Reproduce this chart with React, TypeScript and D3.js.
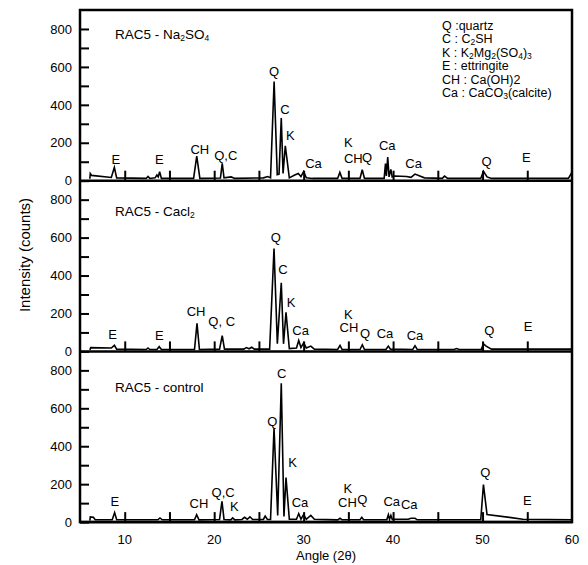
import React, { useEffect, useRef } from 'react';
import * as d3 from 'd3';

// [angle 2θ, counts]
const na2so4: [number, number][] = [
  [6.1, 10], [6.15, 38], [6.3, 28], [8.5, 17], [8.84, 70], [9.1, 15], [12.4, 12], [12.6, 22],
  [12.8, 12], [13.4, 15], [13.6, 30], [13.75, 20], [13.9, 48], [14.1, 12], [17.7, 12],
  [18.05, 130], [18.4, 12], [20.7, 14], [20.9, 92], [21.1, 15], [21.9, 20], [22.3, 12],
  [25.5, 15], [26.0, 22], [26.3, 15], [26.7, 523], [27.05, 32], [27.25, 35], [27.5, 330],
  [27.7, 38], [27.95, 184], [28.4, 15], [29.0, 30], [29.4, 38], [29.7, 22], [30.0, 48],
  [30.3, 15], [31.0, 12], [33.8, 12], [34.05, 44], [34.3, 12], [36.3, 12], [36.55, 58],
  [36.8, 12], [39.0, 12], [39.15, 90], [39.25, 25], [39.4, 125], [39.55, 20], [39.75, 60],
  [39.9, 20], [40.2, 25], [41.5, 22], [42.0, 18], [42.45, 35], [43.5, 15], [45.5, 12],
  [45.75, 24], [46.1, 12], [49.8, 12], [50.1, 50], [50.5, 20], [51.0, 12], [59.6, 12], [60, 45],
];

const cacl2: [number, number][] = [
  [6.1, 8], [6.2, 20], [8.5, 18], [8.85, 32], [9.1, 12], [12.4, 10], [12.6, 18], [12.8, 10],
  [13.6, 10], [13.85, 25], [14.1, 10], [17.8, 10], [18.08, 148], [18.35, 10], [20.6, 12],
  [20.9, 83], [21.15, 12], [23.3, 12], [23.6, 20], [23.9, 14], [24.2, 22], [24.5, 12],
  [26.2, 12], [26.69, 543], [27.06, 40], [27.5, 362], [27.75, 40], [28.03, 206], [28.4, 15],
  [29.2, 18], [29.45, 58], [29.7, 20], [30.0, 45], [30.3, 18], [30.8, 28], [31.2, 12],
  [33.8, 10], [34.07, 32], [34.3, 10], [36.3, 10], [36.56, 35], [36.8, 10], [39.2, 10],
  [39.47, 28], [39.7, 12], [42.2, 10], [42.45, 30], [42.7, 10], [46.8, 10], [47.1, 15],
  [47.4, 10], [49.85, 10], [50.1, 40], [50.4, 28], [51.0, 12], [60, 12],
];

const control: [number, number][] = [
  [6.1, 8], [6.15, 27], [6.5, 25], [6.7, 12], [8.6, 12], [8.87, 50], [9.1, 12], [13.7, 12],
  [13.94, 22], [14.2, 12], [17.8, 12], [18.04, 39], [18.3, 12], [20.6, 14], [20.87, 110],
  [21.1, 14], [21.85, 12], [22.07, 22], [22.3, 12], [23.1, 14], [23.4, 25], [23.7, 15],
  [24.0, 28], [24.3, 14], [25.5, 14], [25.7, 32], [25.95, 14], [26.3, 14], [26.69, 494],
  [27.1, 35], [27.5, 732], [27.8, 30], [28.03, 235], [28.4, 15], [29.2, 15], [29.45, 45],
  [29.7, 15], [30.0, 40], [30.3, 15], [30.8, 35], [31.2, 15], [33.8, 12], [34.07, 20],
  [34.3, 12], [36.3, 12], [36.5, 25], [36.7, 12], [39.3, 12], [39.47, 39], [39.6, 15],
  [39.75, 35], [39.9, 15], [41.7, 15], [42.0, 20], [42.45, 20], [42.7, 12], [49.8, 12],
  [50.1, 198], [50.5, 40], [53.0, 25], [54.5, 15], [60, 12],
];

// peak labels: text, angle, counts at baseline
type Pk = [string, number, number];
const na2so4Peaks: Pk[] = [
  ['E', 9.0, 89], ['E', 13.87, 89], ['CH', 18.4, 142], ['Q,C', 21.3, 110], ['Q', 26.7, 552],
  ['C', 27.9, 352], ['K', 28.5, 216], ['Ca', 31.1, 67], ['K', 35.0, 178], ['CH', 35.55, 93],
  ['Q', 37.1, 101], ['Ca', 39.35, 163], ['Ca', 42.3, 67], ['Q', 50.45, 75], ['E', 54.9, 96],
];
const cacl2Peaks: Pk[] = [
  ['E', 8.65, 66], ['E', 13.87, 58], ['CH', 17.97, 189], ['Q, C', 20.84, 132], ['Q', 26.9, 577],
  ['C', 27.7, 406], ['K', 28.6, 235], ['Ca', 29.67, 88], ['K', 35.0, 172], ['CH', 35.07, 100],
  ['Q', 36.86, 71], ['Ca', 39.1, 71], ['Ca', 42.45, 62], ['Q', 50.76, 88], ['E', 55.1, 106],
];
const controlPeaks: Pk[] = [
  ['E', 8.9, 85], ['CH', 18.3, 76], ['Q,C', 21.0, 132], ['K', 22.25, 58], ['Q', 26.5, 506],
  ['C', 27.54, 762], ['K', 28.77, 291], ['Ca', 29.6, 79], ['K', 34.93, 156], ['CH', 34.9, 79],
  ['Q', 36.56, 94], ['Ca', 39.85, 83], ['Ca', 41.8, 67], ['Q', 50.3, 238], ['E', 55.0, 88],
];

// panel titles and legend, as [text, subscript]
type Part = [string, boolean];
const titles: Part[][] = [
  [['RAC5 - Na', false], ['2', true], ['SO', false], ['4', true]],
  [['RAC5 - Cacl', false], ['2', true]],
  [['RAC5 - control', false]],
];
const legend: Part[][] = [
  [['Q :quartz', false]],
  [['C : C', false], ['2', true], ['SH', false]],
  [['K : K', false], ['2', true], ['Mg', false], ['2', true], ['(SO', false], ['4', true], [')', false], ['3', true]],
  [['E : ettringite', false]],
  [['CH : Ca(OH)2', false]],
  [['Ca : CaCO', false], ['3', true], ['(calcite)', false]],
];

const yMajor = [0, 200, 400, 600, 800];
const yMinor = [100, 300, 500, 700];
const xTicks = [10, 15, 20, 25, 30, 35, 40, 45, 50, 55];
const xLabels = [10, 20, 30, 40, 50, 60];

const FONT = '"Liberation Sans", Arial, sans-serif';

function rich(sel: d3.Selection<SVGTextElement, unknown, null, undefined>, parts: Part[]) {
  let down = false;
  parts.forEach(([t, sub]) => {
    const ts = sel.append('tspan').text(t);
    if (sub) {
      ts.attr('font-size', '8.5px');
      if (!down) ts.attr('dy', 2);
      down = true;
    } else if (down) {
      ts.attr('dy', -2);
      down = false;
    }
  });
}

const App: React.FC = () => {
  const ref = useRef<SVGSVGElement>(null);

  useEffect(() => {
    const { current: node } = ref;
    if (!node) {
      return;
    }
    const svg = d3.select(node);
    svg.selectAll('*').remove();

    const left = 80;
    const right = 572;
    const top = 10;
    const ph = 170.7;

    const x = d3.scaleLinear().domain([5, 60]).range([left, right]);

    const panels = [
      { data: na2so4, peaks: na2so4Peaks, title: titles[0], ty: 38.5 },
      { data: cacl2, peaks: cacl2Peaks, title: titles[1], ty: 215.5 },
      { data: control, peaks: controlPeaks, title: titles[2], ty: 392 },
    ];

    panels.forEach((p, i) => {
      const y = d3
        .scaleLinear()
        .domain([0, 900])
        .range([top + ph * (i + 1), top + ph * i]);
      const g = svg.append('g');

      // y axis, ticks pointing inward
      const ya = g.append('g').attr('transform', `translate(${left},0)`);
      ya.call(d3.axisLeft(y).tickValues(yMajor).tickSizeInner(-9).tickSizeOuter(0).tickPadding(8));
      ya.append('g').call(
        d3.axisLeft(y).tickValues(yMinor).tickSizeInner(-9).tickSizeOuter(0).tickFormat(() => '')
      );
      ya.selectAll('.domain').remove();
      ya.selectAll('line').attr('stroke', '#000').attr('stroke-width', 2);
      ya.selectAll('text')
        .attr('font-family', FONT)
        .attr('font-size', '13px')
        .attr('fill', '#000');

      // x ticks inward in every panel
      const xa = g.append('g').attr('transform', `translate(0,${y(0)})`);
      xa.call(d3.axisBottom(x).tickValues(xTicks).tickSizeInner(-10).tickSizeOuter(0).tickFormat(() => ''));
      xa.selectAll('.domain').remove();
      xa.selectAll('line').attr('stroke', '#000').attr('stroke-width', 2);

      const line = d3
        .line<[number, number]>()
        .x((d) => x(d[0]))
        .y((d) => y(d[1]));
      g.append('path')
        .datum(p.data)
        .attr('d', line)
        .attr('fill', 'none')
        .attr('stroke', '#000')
        .attr('stroke-width', 1.6)
        .attr('stroke-linejoin', 'miter');

      g.selectAll('text.pk')
        .data(p.peaks)
        .enter()
        .append('text')
        .attr('class', 'pk')
        .attr('x', (d) => x(d[1]))
        .attr('y', (d) => y(d[2]))
        .attr('text-anchor', 'middle')
        .attr('font-family', FONT)
        .attr('font-size', '13px')
        .text((d) => d[0]);

      const t = g
        .append('text')
        .attr('x', 115)
        .attr('y', p.ty)
        .attr('font-family', FONT)
        .attr('font-size', '13.5px');
      rich(t, p.title);

      // separator / x axis line
      g.append('line')
        .attr('x1', left)
        .attr('x2', right)
        .attr('y1', y(0))
        .attr('y2', y(0))
        .attr('stroke', '#000')
        .attr('stroke-width', 2.5);

      if (i === 2) {
        g.selectAll('text.xl')
          .data(xLabels)
          .enter()
          .append('text')
          .attr('class', 'xl')
          .attr('x', (d) => x(d))
          .attr('y', y(0) + 22)
          .attr('text-anchor', 'middle')
          .attr('font-family', FONT)
          .attr('font-size', '13px')
          .text((d) => d);
      }
    });

    // frame
    svg
      .append('rect')
      .attr('x', left)
      .attr('y', top)
      .attr('width', right - left)
      .attr('height', ph * 3)
      .attr('fill', 'none')
      .attr('stroke', '#000')
      .attr('stroke-width', 2.5);

    // legend
    legend.forEach((parts, i) => {
      const t = svg
        .append('text')
        .attr('x', 442)
        .attr('y', 29.5 + i * 13.5)
        .attr('font-family', FONT)
        .attr('font-size', '12.5px');
      rich(t, parts);
    });

    svg
      .append('text')
      .attr('x', (left + right) / 2)
      .attr('y', 560)
      .attr('text-anchor', 'middle')
      .attr('font-family', FONT)
      .attr('font-size', '13px')
      .text('Angle (2θ)');

    svg
      .append('text')
      .attr('transform', 'translate(30,255) rotate(-90)')
      .attr('text-anchor', 'middle')
      .attr('font-family', FONT)
      .attr('font-size', '15px')
      .text('Intensity (counts)');
  }, []);

  return (
    <svg
      ref={ref}
      width={588}
      height={565}
      style={{ position: 'absolute', left: 0, top: 0, background: '#fff' }}
    />
  );
};

export default App;
